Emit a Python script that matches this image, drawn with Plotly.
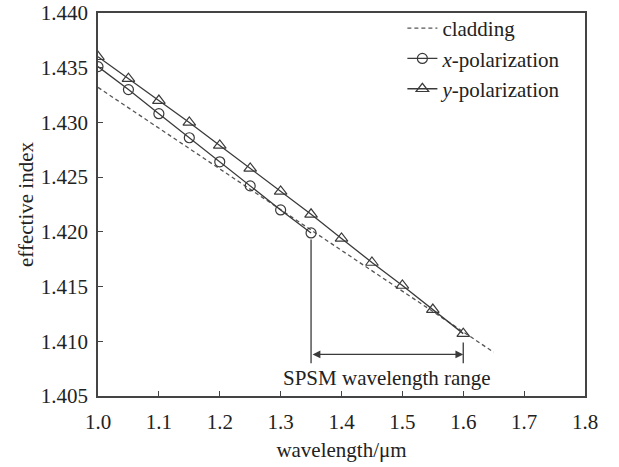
import plotly.graph_objects as go

# ---- data ----
wl_y = [1.00, 1.05, 1.10, 1.15, 1.20, 1.25, 1.30, 1.35, 1.40, 1.45, 1.50, 1.55, 1.60]
n_y = [1.4360, 1.4340, 1.4320, 1.4300, 1.4279, 1.4258, 1.4237, 1.4216, 1.4194, 1.4172, 1.4151, 1.4129, 1.4107]

wl_x = [1.00, 1.05, 1.10, 1.15, 1.20, 1.25, 1.30, 1.35]
n_x = [1.4351, 1.4330, 1.4308, 1.4286, 1.4264, 1.4242, 1.4220, 1.4199]

wl_clad = [1.00, 1.65]
n_clad = [1.4332, 1.4090]

range_start = 1.35
range_end = 1.60
arrow_level = 1.4088
range_label = "SPSM wavelength range"

FONT = "Liberation Serif, Times New Roman, serif"
FS = 21
LC = "#3a3a3a"

fig = go.Figure()
fig.add_trace(go.Scatter(
    x=wl_clad, y=n_clad, mode="lines", name="cladding",
    line=dict(color="#555555", width=1.3, dash="4px,3px")))
fig.add_trace(go.Scatter(
    x=wl_x, y=n_x, mode="lines+markers", name="<i>x</i>-polarization",
    line=dict(color=LC, width=1.3),
    marker=dict(symbol="circle-open", size=10, color=LC, line=dict(width=1.2))))
fig.add_trace(go.Scatter(
    x=wl_y, y=n_y, mode="lines+markers", name="<i>y</i>-polarization",
    line=dict(color=LC, width=1.3),
    marker=dict(symbol="triangle-up-open", size=11, color=LC, line=dict(width=1.2))))

# range indicator lines
fig.add_shape(type="line", x0=range_start, x1=range_start, y0=n_x[-1] - 0.0006, y1=1.4080,
              line=dict(color=LC, width=1.3))
fig.add_shape(type="line", x0=range_end, x1=range_end, y0=n_y[-1] - 0.0008, y1=1.4080,
              line=dict(color=LC, width=1.3))
fig.add_annotation(x=range_end, y=arrow_level, ax=range_start, ay=arrow_level,
                   xref="x", yref="y", axref="x", ayref="y", text="",
                   showarrow=True, arrowside="end+start", arrowhead=2,
                   arrowsize=1.2, arrowwidth=1.3, arrowcolor=LC)
fig.add_annotation(x=(range_start + range_end) / 2, y=1.4066, xref="x", yref="y",
                   text=range_label, showarrow=False,
                   font=dict(family=FONT, size=FS, color="#222"))

axis_common = dict(showline=True, linecolor="#444", linewidth=1.5, mirror=True,
                   ticks="inside", ticklen=5, tickcolor="#444", tickwidth=1.3,
                   showgrid=False, zeroline=False,
                   tickfont=dict(family=FONT, size=FS, color="#222"))

fig.update_layout(
    width=619, height=467,
    margin=dict(l=98, r=34, t=13, b=71, autoexpand=False),
    plot_bgcolor="white", paper_bgcolor="white",
    font=dict(family=FONT, size=FS, color="#222"),
    xaxis=dict(range=[1.0, 1.8], dtick=0.1, tickformat=".1f", ticklabelstandoff=6,
               title=dict(text="wavelength/μm", standoff=9,
                          font=dict(family=FONT, size=FS)), **axis_common),
    yaxis=dict(range=[1.405, 1.440], dtick=0.005, tickformat=".3f", ticklabelstandoff=4,
               title=dict(text="effective index", standoff=1,
                          font=dict(family=FONT, size=FS)), **axis_common),
    legend=dict(x=0.625, y=1.013, xanchor="left", yanchor="top",
                bgcolor="rgba(0,0,0,0)", font=dict(family=FONT, size=FS),
                tracegroupgap=0, itemwidth=30),
    showlegend=True,
)

fig.write_html("out.html")
